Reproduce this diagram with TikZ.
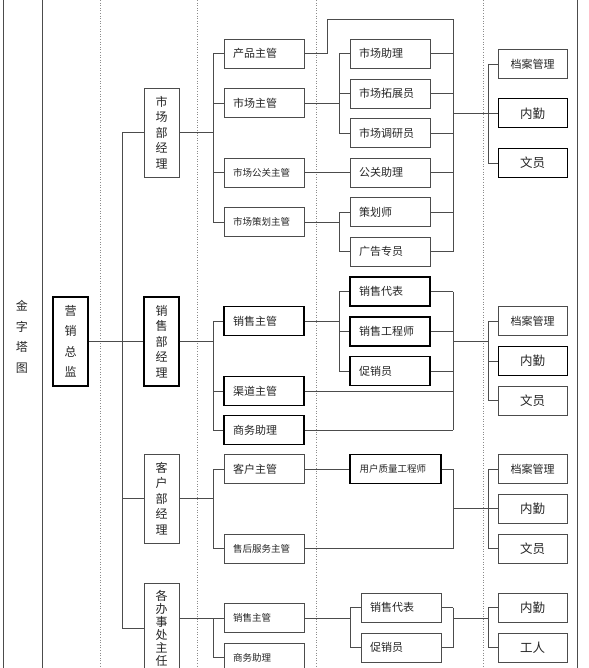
\documentclass[tikz,border=0pt]{standalone}
\usepackage{fontspec}
\newfontfamily\cjk{Noto Sans CJK SC}
\tikzset{
unitbox/.style={rectangle, draw=black!70, line width=0.7pt, fill=white, inner sep=0pt, minimum width=80pt, minimum height=29pt, text width=62pt, align=left, text=black!85, font=\cjk\fontsize{11}{13}\selectfont},
unitboxbold/.style={unitbox, draw=black, line width=1.1pt},
staffbox/.style={unitbox, minimum width=69pt, text width=60pt, align=center},
staffboxbold/.style={staffbox, draw=black, line width=1pt},
leadbox/.style={rectangle, draw=black!70, line width=0.7pt, fill=white, inner sep=0pt, minimum width=35pt, minimum height=89pt, align=center, text=black!85, font=\cjk\fontsize{12}{15.5}\selectfont},
leadboxbold/.style={leadbox, draw=black, line width=1.1pt},
widespaced/.style={font=\cjk\fontsize{12}{20.5}\selectfont},
smalltext/.style={font=\cjk\fontsize{9.5}{11}\selectfont},
link/.style={draw=black!70, line width=0.8pt},
colsolid/.style={draw=black!70, line width=0.7pt},
coldot/.style={draw=black!45, dotted, line width=0.6pt},
}
\begin{document}
\begin{tikzpicture}[x=1pt,y=-1pt]
\useasboundingbox (0,0) rectangle (588,668);
\clip (0,0) rectangle (588,668);
% columns
\draw[colsolid] (3,0) -- (3,668);
\draw[colsolid] (42,0) -- (42,668);
\draw[coldot] (100,0) -- (100,668);
\draw[coldot] (197,0) -- (197,668);
\draw[coldot] (316,0) -- (316,668);
\draw[coldot] (483,0) -- (483,668);
\draw[colsolid] (577,0) -- (577,668);
\node[widespaced, align=center, inner sep=0pt, text=black!85] at (22,337) (title) {金\\字\\塔\\图};

% bus columns
\coordinate (b1) at (122,0);
\coordinate (b2) at (213,0);
\coordinate (b3) at (339,0);
\coordinate (b3o) at (350,0);
\coordinate (b4) at (453,0);
\coordinate (b5) at (488,0);
\coordinate (kink) at (327,19);

% director and managers
\node[leadboxbold, widespaced] at (70.5,341.5) (zj) {营\\销\\总\\监};
\node[leadbox] at (161.5,132.5) (mkt) {市\\场\\部\\经\\理};
\node[leadboxbold] at (161.5,341.5) (sal) {销\\售\\部\\经\\理};
\node[leadbox] at (161.5,498.5) (cus) {客\\户\\部\\经\\理};
\node[leadbox, minimum height=90pt, font=\cjk\fontsize{12}{13}\selectfont] at (161.5,628) (off) {各\\办\\事\\处\\主\\任};

% supervisors
\node[unitbox] at (264,53.5) (cp) {产品主管};
\node[unitbox] at (264,103) (sc) {市场主管};
\node[unitbox, smalltext] at (264,172.5) (gg) {市场公关主管};
\node[unitbox, smalltext] at (264,222) (ch) {市场策划主管};
\node[unitboxbold] at (264,321) (xz) {销售主管};
\node[unitboxbold] at (264,391) (qd) {渠道主管};
\node[unitboxbold] at (264,430) (sw) {商务助理};
\node[unitbox] at (264,469) (kz) {客户主管};
\node[unitbox, smalltext] at (264,548.5) (sh) {售后服务主管};
\node[unitbox, smalltext] at (264,618) (xz2) {销售主管};
\node[unitbox, smalltext] at (264,657.5) (sw2) {商务助理};

% staff
\node[unitbox] at (390,53.5) (zl) {市场助理};
\node[unitbox] at (390,93.5) (tz) {市场拓展员};
\node[unitbox] at (390,133) (dy) {市场调研员};
\node[unitbox] at (390,172.5) (gz) {公关助理};
\node[unitbox] at (390,212) (cd) {策划师};
\node[unitbox] at (390,251.5) (gc) {广告专员};
\node[unitboxbold] at (390,291.5) (db) {销售代表};
\node[unitboxbold] at (390,331.5) (gcs) {销售工程师};
\node[unitboxbold] at (390,371) (cx) {促销员};
\node[unitboxbold, smalltext, minimum width=91pt, text width=72pt] at (395.5,469) (zl2) {用户质量工程师};
\node[unitbox] at (401,607.5) (db2) {销售代表};
\node[unitbox] at (401,647.5) (cx2) {促销员};

% office staff
\node[staffbox] at (532.5,64) (da1) {档案管理};
\node[staffboxbold, font=\cjk\fontsize{12.5}{14}\selectfont] at (532.5,113.5) (nq1) {内勤};
\node[staffboxbold, font=\cjk\fontsize{12.5}{14}\selectfont] at (532.5,163) (wy1) {文员};
\node[staffbox] at (532.5,321) (da2) {档案管理};
\node[staffboxbold, font=\cjk\fontsize{12.5}{14}\selectfont] at (532.5,361) (nq2) {内勤};
\node[staffbox, font=\cjk\fontsize{12.5}{14}\selectfont] at (532.5,400.5) (wy2) {文员};
\node[staffbox] at (532.5,469) (da3) {档案管理};
\node[staffbox, font=\cjk\fontsize{12.5}{14}\selectfont] at (532.5,508.5) (nq3) {内勤};
\node[staffbox, font=\cjk\fontsize{12.5}{14}\selectfont] at (532.5,548.5) (wy3) {文员};
\node[staffbox, font=\cjk\fontsize{12.5}{14}\selectfont] at (532.5,607.5) (nq4) {内勤};
\node[staffbox, font=\cjk\fontsize{12.5}{14}\selectfont] at (532.5,647.5) (gr) {工人};

% director to managers
\draw[link] (zj.east) -- (sal.west);
\draw[link] (mkt.west) -| (b1 |- off.west) -- (off.west);
\draw[link] (cus.west) -- (cus.west -| b1);

% managers to supervisors
\draw[link] (mkt.east) -- (mkt.east -| b2);
\draw[link] (cp.west -| b2) -- (ch.west -| b2);
\draw[link] (cp.west) -- (cp.west -| b2);
\draw[link] (sc.west) -- (sc.west -| b2);
\draw[link] (gg.west) -- (gg.west -| b2);
\draw[link] (ch.west) -- (ch.west -| b2);
\draw[link] (sal.east) -- (sal.east -| b2);
\draw[link] (xz.west -| b2) -- (sw.west -| b2);
\draw[link] (xz.west) -- (xz.west -| b2);
\draw[link] (qd.west) -- (qd.west -| b2);
\draw[link] (sw.west) -- (sw.west -| b2);
\draw[link] (cus.east) -- (cus.east -| b2);
\draw[link] (kz.west -| b2) -- (sh.west -| b2);
\draw[link] (kz.west) -- (kz.west -| b2);
\draw[link] (sh.west) -- (sh.west -| b2);
\draw[link] (off.east |- xz2.west) -- (xz2.west -| b2);
\draw[link] (xz2.west -| b2) -- (sw2.west -| b2);
\draw[link] (xz2.west) -- (xz2.west -| b2);
\draw[link] (sw2.west) -- (sw2.west -| b2);

% supervisors to staff
\draw[link] (sc.east) -- (sc.east -| b3);
\draw[link] (zl.west -| b3) -- (dy.west -| b3);
\draw[link] (zl.west) -- (zl.west -| b3);
\draw[link] (tz.west) -- (tz.west -| b3);
\draw[link] (dy.west) -- (dy.west -| b3);
\draw[link] (gg.east) -- (gz.west);
\draw[link] (ch.east) -- (ch.east -| b3);
\draw[link] (cd.west -| b3) -- (gc.west -| b3);
\draw[link] (cd.west) -- (cd.west -| b3);
\draw[link] (gc.west) -- (gc.west -| b3);
\draw[link] (xz.east) -- (xz.east -| b3);
\draw[link] (db.west -| b3) -- (cx.west -| b3);
\draw[link] (db.west) -- (db.west -| b3);
\draw[link] (gcs.west) -- (gcs.west -| b3);
\draw[link] (cx.west) -- (cx.west -| b3);
\draw[link] (kz.east) -- (zl2.west);
\draw[link] (xz2.east) -- (xz2.east -| b3o);
\draw[link] (db2.west -| b3o) -- (cx2.west -| b3o);
\draw[link] (db2.west) -- (db2.west -| b3o);
\draw[link] (cx2.west) -- (cx2.west -| b3o);

% staff to office staff
\draw[link] (cp.east) -| (kink) -| (gc.east -| b4);
\draw[link] (zl.east) -- (zl.east -| b4);
\draw[link] (tz.east) -- (tz.east -| b4);
\draw[link] (dy.east) -- (dy.east -| b4);
\draw[link] (gz.east) -- (gz.east -| b4);
\draw[link] (cd.east) -- (cd.east -| b4);
\draw[link] (gc.east) -- (gc.east -| b4);
\draw[link] (nq1.west -| b4) -- (nq1.west);
\draw[link] (da1.west -| b5) -- (wy1.west -| b5);
\draw[link] (da1.west) -- (da1.west -| b5);
\draw[link] (wy1.west) -- (wy1.west -| b5);

\draw[link] (db.east) -- (db.east -| b4);
\draw[link] (gcs.east) -- (gcs.east -| b4);
\draw[link] (cx.east) -- (cx.east -| b4);
\draw[link] (qd.east) -- (qd.east -| b4);
\draw[link] (sw.east) -- (sw.east -| b4);
\draw[link] (db.east -| b4) -- (sw.east -| b4);
\draw[link] (sal.east -| b4) -- (sal.east -| b5);
\draw[link] (da2.west -| b5) -- (wy2.west -| b5);
\draw[link] (da2.west) -- (da2.west -| b5);
\draw[link] (nq2.west) -- (nq2.west -| b5);
\draw[link] (wy2.west) -- (wy2.west -| b5);

\draw[link] (zl2.east) -- (zl2.east -| b4);
\draw[link] (sh.east) -- (sh.east -| b4);
\draw[link] (zl2.east -| b4) -- (sh.east -| b4);
\draw[link] (nq3.west -| b4) -- (nq3.west);
\draw[link] (da3.west -| b5) -- (wy3.west -| b5);
\draw[link] (da3.west) -- (da3.west -| b5);
\draw[link] (wy3.west) -- (wy3.west -| b5);

\draw[link] (db2.east) -- (db2.east -| b4);
\draw[link] (cx2.east) -- (cx2.east -| b4);
\draw[link] (db2.east -| b4) -- (cx2.east -| b4);
\draw[link] (xz2.east -| b4) -- (xz2.east -| b5);
\draw[link] (nq4.west -| b5) -- (gr.west -| b5);
\draw[link] (nq4.west) -- (nq4.west -| b5);
\draw[link] (gr.west) -- (gr.west -| b5);
\end{tikzpicture}
\end{document}
